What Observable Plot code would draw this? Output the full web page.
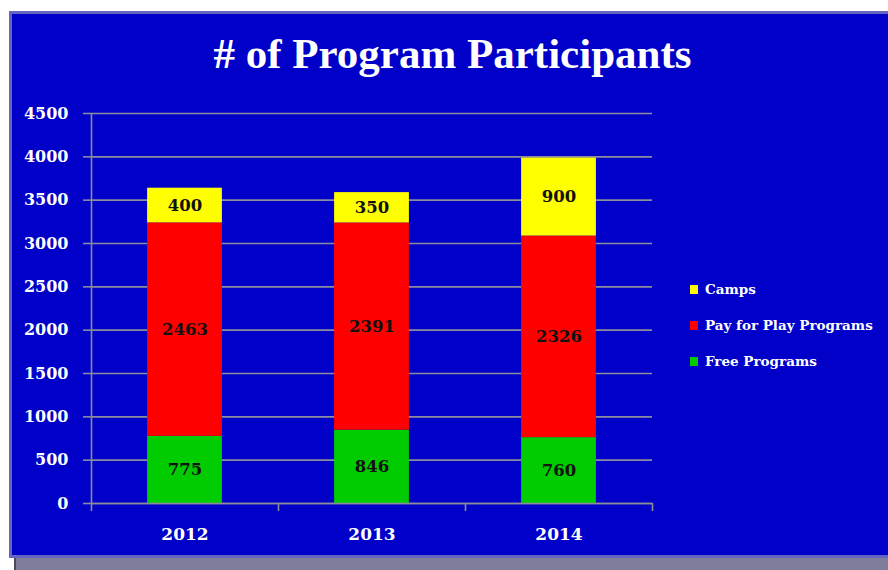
<!DOCTYPE html>
<html>
<head>
<meta charset="utf-8">
<script src="https://cdn.jsdelivr.net/npm/d3@7"></script>
<script src="https://cdn.jsdelivr.net/npm/@observablehq/plot@0.6"></script>
<style>
  html, body { margin: 0; padding: 0; background: #ffffff; }
  #wrap { position: relative; width: 888px; height: 570px; overflow: hidden; background: #fff; }
  #shadow { position: absolute; left: 14px; top: 556px; width: 880px; height: 14px; background: #7e7e9c; border-left: 2px solid #4a4a5a; }
  #panel { position: absolute; left: 9px; top: 11px; width: 885px; height: 547px; background: #0000c8; border: 3px solid #6666c0; box-sizing: border-box; }
  #title { position: absolute; left: 0; width: 905px; top: 29px; text-align: center; color: #fff;
           font: bold 43px "Liberation Serif", serif; }
  #chart { position: absolute; left: 0; top: 0; }
  #legend { position: absolute; left: 690px; top: 271px; color: #fff; font: bold 13.5px "DejaVu Serif", serif; }
  .item { display: flex; align-items: center; height: 36px; }
  .sw { width: 8px; height: 9px; margin-right: 7px; }
</style>
</head>
<body>
<div id="wrap">
  <div id="shadow"></div>
  <div id="panel"></div>
  <div id="title"># of Program Participants</div>
  <div id="chart"></div>
  <div id="legend"></div>
</div>
<script>
const years = ["2012", "2013", "2014"];
const series = ["Free Programs", "Pay for Play Programs", "Camps"];
const freePrograms = [775, 846, 760];
const payForPlay = [2463, 2391, 2326];
const camps = [400, 350, 900];
const colors = ["#00cc00", "#ff0000", "#ffff00"];
const yTicks = [0, 500, 1000, 1500, 2000, 2500, 3000, 3500, 4000, 4500];

const values = [freePrograms, payForPlay, camps];
const data = [];
series.forEach((s, si) => years.forEach((y, yi) => data.push({year: y, idx: yi, series: s, value: values[si][yi]})));

const xLeft = d => d.idx + 0.3;
const xRight = d => d.idx + 0.7;
const xMid = d => d.idx + 0.5;

const plot = Plot.plot({
  width: 888,
  height: 570,
  marginLeft: 91,
  marginRight: 236,
  marginTop: 113,
  marginBottom: 67,
  style: {background: "transparent", overflow: "visible"},
  x: {domain: [0, years.length], axis: null, label: null},
  y: {domain: [0, 4500], axis: null, label: null},
  color: {domain: series, range: colors},
  marks: [
    Plot.gridY(yTicks, {stroke: "#8c8c9c", strokeOpacity: 1, strokeWidth: 1.6}),
    Plot.axisY(yTicks, {tickSize: 8, tickPadding: 15, stroke: "#8c8c9c", strokeWidth: 1.6, fill: "#ffffff", label: null,
      fontSize: 16, fontWeight: "bold", fontFamily: "DejaVu Serif", tickFormat: d => String(d)}),
    Plot.rectY(data, {x1: xLeft, x2: xRight, y: "value", fill: "series", z: "series", order: series}),
    Plot.text(data, Plot.stackY({x: xMid, y: "value", z: "series", text: d => String(d.value), order: series,
      fill: "#111", fontSize: 16.5, fontWeight: "bold", fontFamily: "DejaVu Serif"})),
    Plot.ruleY([0], {stroke: "#8c8c9c", strokeWidth: 1.6}),
    Plot.ruleX([0], {stroke: "#8c8c9c", strokeWidth: 1.6}),
    Plot.axisX(d3.range(0, years.length + 1), {tickSize: 8, stroke: "#8c8c9c", strokeWidth: 1.6, label: null, tickFormat: () => ""}),
    Plot.axisX(years.map((y, i) => i + 0.5), {tickSize: 0, tickPadding: 24, fill: "#ffffff", label: null,
      fontSize: 17, fontWeight: "bold", fontFamily: "DejaVu Serif", tickFormat: v => years[Math.floor(v)]})
  ]
});
document.getElementById("chart").appendChild(plot);

const legend = document.getElementById("legend");
[...series].reverse().forEach(s => {
  const item = document.createElement("div");
  item.className = "item";
  const sw = document.createElement("span");
  sw.className = "sw";
  sw.style.background = colors[series.indexOf(s)];
  const label = document.createElement("span");
  label.textContent = s;
  item.appendChild(sw);
  item.appendChild(label);
  legend.appendChild(item);
});
</script>
</body>
</html>
